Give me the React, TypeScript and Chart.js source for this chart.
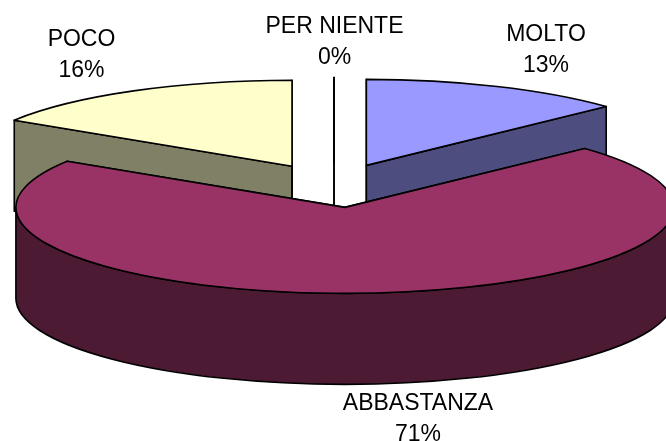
import React, { useEffect, useRef } from "react";
import { Chart, registerables } from "chart.js";

Chart.register(...registerables);

const categories = ["MOLTO", "ABBASTANZA", "POCO", "PER NIENTE"];
const values = [13, 71, 16, 0];
const topColors = ["#9999FF", "#993366", "#FFFFCC", "#FFFFFF"];
const sideColors = ["#4D4D80", "#4D1A33", "#808066", "#808080"];
const labelCenters = [
  [546, 35],
  [418, 404],
  [81.5, 40],
  [334.5, 27],
];
const sliceNudgeX = [-1, 3, -1.5, 0];

const CX = 334, CY = 185.5, RX = 329, RY = 86, DEPTH = 91, EXPLODE = 84;
const LINE_GAP = 31;

const pie3d = {
  id: "pie3d",
  beforeDatasetDraw(chart: any) {
    const ctx: CanvasRenderingContext2D = chart.ctx;
    const arcs: any[] = chart.getDatasetMeta(0).data;
    const order = [3, 2, 0, 1];
    const paint = () => {
      ctx.lineWidth = 1.6;
      ctx.strokeStyle = "#000";
      ctx.lineJoin = "round";
      ctx.fill();
      ctx.stroke();
    };
    for (const i of order) {
      const el = arcs[i];
      const { startAngle: a0, endAngle: a1, outerRadius: r } = el;
      const mid = (a0 + a1) / 2;
      const rx = RX, ry = RY;
      const ax = CX + Math.cos(mid) * EXPLODE + sliceNudgeX[i];
      const ay = CY + Math.sin(mid) * EXPLODE * (RY / RX);
      const px = (a: number) => ax + Math.cos(a) * rx;
      const py = (a: number) => ay + Math.sin(a) * ry;
      ctx.fillStyle = sideColors[i];
      for (const a of [a0, a1]) {
        ctx.beginPath();
        ctx.moveTo(ax, ay);
        ctx.lineTo(px(a), py(a));
        ctx.lineTo(px(a), py(a) + DEPTH);
        ctx.lineTo(ax, ay + DEPTH);
        ctx.closePath();
        paint();
      }
      // rim: only the front-facing part (screen-lower half of the ellipse)
      const f0 = Math.max(a0, 0), f1 = Math.min(a1, Math.PI);
      if (f1 > f0 && r > 0) {
        ctx.beginPath();
        ctx.ellipse(ax, ay, rx, ry, 0, f0, f1);
        ctx.ellipse(ax, ay + DEPTH, rx, ry, 0, f1, f0, true);
        ctx.closePath();
        paint();
      }
      ctx.fillStyle = topColors[i];
      ctx.beginPath();
      ctx.moveTo(ax, ay);
      ctx.ellipse(ax, ay, rx, ry, 0, a0, a1);
      ctx.closePath();
      paint();
    }
    return false;
  },
  afterDatasetsDraw(chart: any) {
    const ctx: CanvasRenderingContext2D = chart.ctx;
    ctx.save();
    ctx.font = '23px "Liberation Sans"';
    ctx.fillStyle = "#000";
    ctx.textAlign = "center";
    ctx.textBaseline = "middle";
    categories.forEach((c, i) => {
      const [x, y] = labelCenters[i];
      ctx.fillText(c, x, y);
      ctx.fillText(values[i] + "%", x, y + LINE_GAP);
    });
    ctx.restore();
  },
};

export default function App() {
  const ref = useRef<HTMLCanvasElement>(null);
  useEffect(() => {
    document.body.style.margin = "0";
    const chart = new Chart(ref.current!, {
      type: "pie",
      data: {
        labels: categories,
        datasets: [{ data: values, backgroundColor: topColors, borderWidth: 0 }],
      },
      options: {
        responsive: false,
        animation: false,
        plugins: { legend: { display: false }, tooltip: { enabled: false } },
      },
      plugins: [pie3d],
    } as any);
    return () => chart.destroy();
  }, []);
  return <canvas ref={ref} width={666} height={441} style={{ display: "block" }} />;
}
